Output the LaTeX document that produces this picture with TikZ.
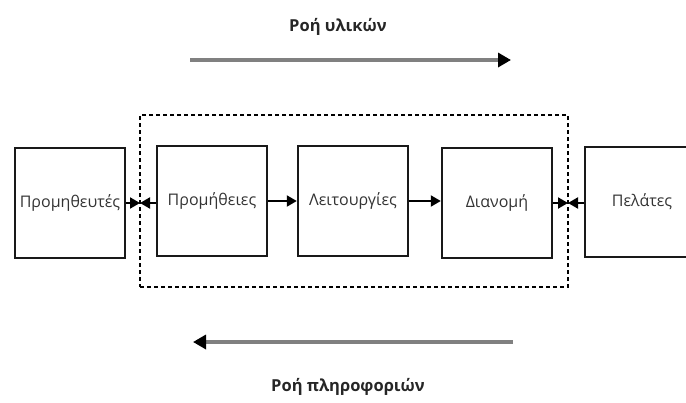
\documentclass[tikz,border=0pt]{standalone}
\usepackage{fontspec}
\setmainfont{Open Sans}
\usetikzlibrary{arrows.meta}
\begin{document}
\begin{tikzpicture}[x=1pt,y=-1pt,
  box/.style={draw=black!90,line width=2.4pt,minimum width=110pt,minimum height=110pt,inner sep=0pt,font=\fontsize{16}{19}\selectfont,text=black!80},
  conn/.style={line width=2pt,-{Triangle[length=10pt,width=11pt]}},
  flow/.style={draw=black!50,line width=3.4pt,-{Triangle[length=13pt,width=14pt,fill=black,color=black]}},
  lbl/.style={font=\bfseries\fontsize{16.5}{19}\selectfont,text=black!85},
  frame/.style={draw=black,line width=1.5pt,dash pattern=on 4pt off 3pt}]
\useasboundingbox (0,0) rectangle (686,402);
\node[box] (sup) at (70,203) {Προμηθευτές};
\node[box] (pro) at (212,201) {Προμήθειες};
\node[box] (op) at (353,201) {Λειτουργίες};
\node[box] (dis) at (497,203) {Διανομή};
\node[box,minimum width=114pt] (cus) at (642,202) {Πελάτες};
\node[frame,minimum width=428pt,minimum height=172pt,inner sep=0pt] (fr) at (354,201) {};
\coordinate (m1) at (140,203);
\coordinate (m2) at (568,203);
\draw[conn] (sup.east |- m1) -- (m1);
\draw[conn] (pro.west |- m1) -- (m1);
\draw[conn] (pro.east) -- (op.west);
\draw[conn] (op.east) -- (dis.west |- op.east);
\draw[conn] (dis.east |- m2) -- (m2);
\draw[conn] (cus.west |- m2) -- (m2);
\node[lbl] (t1) at (338,27) {Ροή υλικών};
\coordinate (a1) at (190,60);
\coordinate (a2) at (511,60);
\draw[flow] (a1) -- (a2);
\coordinate (b1) at (513,342);
\coordinate (b2) at (193,342);
\draw[flow] (b1) -- (b2);
\node[lbl] (t2) at (348,387) {Ροή πληροφοριών};
\end{tikzpicture}
\end{document}
